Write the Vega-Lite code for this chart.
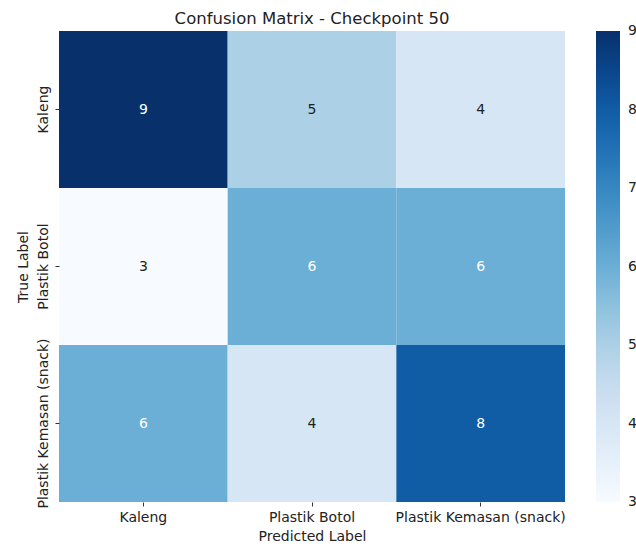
{
  "$schema": "https://vega.github.io/schema/vega-lite/v6.json",
  "autosize": {"type": "none"},
  "padding": {"left": 59, "top": 31, "right": 71, "bottom": 48},
  "width": 506,
  "height": 471,
  "background": "white",
  "config": {
    "font": "DejaVu Sans",
    "view": {"stroke": null},
    "axis": {"grid": false, "domain": false, "labelFont": "DejaVu Sans", "titleFont": "DejaVu Sans", "labelFontSize": 14, "titleFontSize": 14, "labelColor": "#222", "titleColor": "#222", "titleFontWeight": "normal", "tickColor": "#333", "tickSize": 4}
  },
  "title": {"text": "Confusion Matrix - Checkpoint 50", "fontSize": 16.5, "fontWeight": "normal", "font": "DejaVu Sans", "color": "#222", "anchor": "middle", "baseline": "alphabetic", "offset": 8, "dy": 17},
  "data": {"values": [
    {"true": "Kaleng", "pred": "Kaleng", "count": 9},
    {"true": "Kaleng", "pred": "Plastik Botol", "count": 5},
    {"true": "Kaleng", "pred": "Plastik Kemasan (snack)", "count": 4},
    {"true": "Plastik Botol", "pred": "Kaleng", "count": 3},
    {"true": "Plastik Botol", "pred": "Plastik Botol", "count": 6},
    {"true": "Plastik Botol", "pred": "Plastik Kemasan (snack)", "count": 6},
    {"true": "Plastik Kemasan (snack)", "pred": "Kaleng", "count": 6},
    {"true": "Plastik Kemasan (snack)", "pred": "Plastik Botol", "count": 4},
    {"true": "Plastik Kemasan (snack)", "pred": "Plastik Kemasan (snack)", "count": 8}
  ]},
  "encoding": {
    "x": {"field": "pred", "type": "nominal", "sort": ["Kaleng", "Plastik Botol", "Plastik Kemasan (snack)"], "title": "Predicted Label", "axis": {"labelAngle": 0, "labelPadding": 4, "titlePadding": 5}},
    "y": {"field": "true", "type": "nominal", "sort": ["Kaleng", "Plastik Botol", "Plastik Kemasan (snack)"], "title": "True Label", "axis": {"labelAngle": -90, "labelAlign": "center", "labelBaseline": "bottom", "labelPadding": 5, "titlePadding": 6}}
  },
  "layer": [
    {
      "mark": {"type": "rect"},
      "encoding": {
        "color": {"field": "count", "type": "quantitative",
          "scale": {"domain": [3, 3.75, 4.5, 5.25, 6, 6.75, 7.5, 8.25, 9], "range": ["#f7fbff", "#deebf7", "#c6dbef", "#9ecae1", "#6baed6", "#4292c6", "#2171b5", "#08519c", "#08306b"]},
          "legend": {"orient": "none", "legendX": 537, "legendY": 0, "direction": "vertical", "gradientLength": 471, "gradientThickness": 24, "gradientStrokeWidth": 0, "title": null, "values": [3, 4, 5, 6, 7, 8, 9], "labelFontSize": 14, "labelFont": "DejaVu Sans", "labelColor": "#222", "labelOffset": 8, "labelBaseline": "middle", "labelOverlap": false,
            "encode": {"labels": {"update": {"baseline": {"value": "middle"}}}}}
        }
      }
    },
    {
      "mark": {"type": "text", "fontSize": 14, "font": "DejaVu Sans"},
      "encoding": {
        "text": {"field": "count", "type": "quantitative"},
        "color": {"condition": {"test": "datum.count >= 6", "value": "white"}, "value": "#222"}
      }
    }
  ]
}
